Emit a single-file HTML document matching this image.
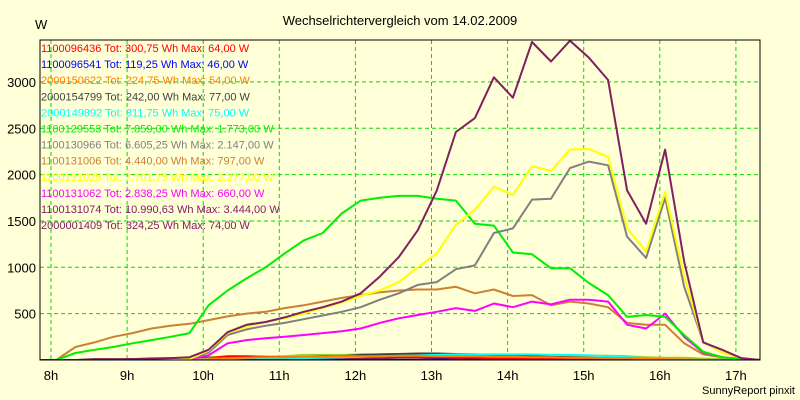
<!DOCTYPE html>
<html><head><meta charset="utf-8"><style>
body{margin:0;background:#ffffd8;}
svg{display:block;font-family:"Liberation Sans",sans-serif;}
</style></head><body>
<svg id="chart" width="800" height="400" viewBox="0 0 800 400" xmlns="http://www.w3.org/2000/svg">
<rect x="0" y="0" width="800" height="400" fill="#ffffd8"/>
<text x="400" y="25" text-anchor="middle" font-size="13" fill="#000">Wechselrichtervergleich vom 14.02.2009</text>
<text x="35" y="29" font-size="13" fill="#000">W</text>
<g id="grid"></g>
<defs><clipPath id="plotclip"><rect x="40" y="40" width="720" height="320"/></clipPath></defs>
<g id="series" clip-path="url(#plotclip)"></g>
<rect x="40" y="40" width="720" height="320" fill="none" stroke="#000" stroke-width="1"/>
<g id="legend"></g>
<g id="axes"></g>
<text x="795" y="394" text-anchor="end" font-size="11" fill="#000">SunnyReport pinxit</text>
</svg>
<script>
const hourTicks = [8,9,10,11,12,13,14,15,16,17];
const hourLabels = ["8h","9h","10h","11h","12h","13h","14h","15h","16h","17h"];
const yTicks = [500,1000,1500,2000,2500,3000];
const times = [];
for (let k = -1; k <= 37; k++) times.push(8.07 + 0.25 * k);

const green   = [0,0,75,110,140,180,215,250,290,590,750,880,1000,1150,1290,1370,1580,1720,1750,1770,1770,1740,1720,1470,1450,1160,1140,990,990,830,700,465,485,465,270,90,30,5,0];
const purple  = [0,0,0,0,0,10,15,20,30,110,300,380,410,460,520,570,630,720,900,1110,1400,1830,2460,2610,3050,2830,3430,3220,3444,3260,3020,1830,1470,2270,1060,190,110,20,0];
const yellow  = [0,0,0,0,0,0,0,0,10,100,290,360,410,450,500,560,620,690,750,840,1000,1150,1460,1620,1870,1780,2090,2040,2270,2277,2190,1420,1170,1810,900,200,80,20,0];
const gray    = [0,0,0,0,0,0,0,0,10,80,270,330,370,400,440,480,520,570,650,720,810,840,980,1020,1370,1420,1730,1740,2070,2140,2100,1330,1100,1750,790,200,80,20,0];
const brown   = [0,0,140,190,250,290,340,370,390,430,470,500,520,560,590,630,670,700,730,750,760,760,790,720,760,690,700,590,630,610,570,400,380,380,180,60,30,10,0];
const magenta = [0,0,0,0,0,0,0,0,10,50,180,215,235,250,270,290,310,340,400,450,485,520,560,530,610,570,630,600,650,650,630,380,340,500,250,80,30,10,0];
const limeBase= [0,0,0,0,0,10,20,20,20,30,35,35,35,40,55,55,55,60,60,65,65,60,55,55,55,50,50,45,45,45,45,40,30,25,25,15,10,5,0];
const orange  = [0,0,0,0,0,0,0,0,0,10,20,25,30,30,35,35,40,40,40,45,45,40,40,40,35,35,30,30,25,25,20,20,15,10,5,0,0,0,0];
const cyan    = [0,0,0,0,0,0,0,0,0,15,15,20,20,20,20,25,30,35,40,45,50,55,60,60,60,60,60,55,55,50,40,30,20,10,0,0,0,0,0];
const red     = [0,0,0,0,0,0,0,0,0,20,40,40,35,30,30,40,40,40,35,35,30,30,25,25,20,20,15,15,10,10,5,5,0,0,0,0,0,0,0];
const darkGray= [0,0,0,0,0,0,0,0,0,0,0,0,0,5,10,20,40,55,60,65,70,70,65,60,50,45,40,35,30,25,20,15,10,5,0,0,0,0,0];
const blue    = [0,0,0,0,0,0,0,0,0,0,0,0,0,0,0,0,0,0,0,0,0,5,10,15,15,15,15,15,10,10,5,0,0,0,0,0,0,0,0];
const plum    = [0,0,0,10,10,10,10,15,20,25,25,20,15,10,10,10,10,15,20,25,25,20,20,15,15,15,15,10,10,10,10,5,5,0,0,0,0,0,0];

const legendNames = ["1100096436 Tot: 300,75 Wh Max: 64,00 W","1100096541 Tot: 119,25 Wh Max: 46,00 W","2000150622 Tot: 224,75 Wh Max: 54,00 W","2000154799 Tot: 242,00 Wh Max: 77,00 W","2000149892 Tot: 311,75 Wh Max: 75,00 W","1100129553 Tot: 7.859,00 Wh Max: 1.773,00 W","1100130966 Tot: 6.605,25 Wh Max: 2.147,00 W","1100131006 Tot: 4.440,00 Wh Max: 797,00 W","1100131025 Tot: 7.701,75 Wh Max: 2.277,00 W","1100131062 Tot: 2.838,25 Wh Max: 660,00 W","1100131074 Tot: 10.990,63 Wh Max: 3.444,00 W","2000001409 Tot: 324,25 Wh Max: 74,00 W"];
const legendColors = ["#ff0000","#0000ff","#ff8000","#404040","#00ffff","#00ee00","#808080","#cc8033","#ffff00","#ff00ff","#802060","#802060"];

const NS = "http://www.w3.org/2000/svg";
const X0 = 51, XPH = 76.1, Y0 = 360, YPW = 0.0927;
function xs(t){ return X0 + (t - 8) * XPH; }
function ys(v){ return Y0 - v * YPW; }

const grid = document.getElementById('grid');
const axes = document.getElementById('axes');
yTicks.forEach(v => {
  const l = document.createElementNS(NS,'line');
  l.setAttribute('x1',40); l.setAttribute('x2',760);
  l.setAttribute('y1',ys(v)); l.setAttribute('y2',ys(v));
  l.setAttribute('stroke','#00dd00'); l.setAttribute('stroke-dasharray','4,3');
  
  
  grid.appendChild(l);
  const t = document.createElementNS(NS,'text');
  t.setAttribute('x',36); t.setAttribute('y',ys(v)+5);
  t.setAttribute('text-anchor','end'); t.setAttribute('font-size','13');
  t.textContent = v;
  
  
  axes.appendChild(t);
});
hourTicks.forEach((h,i) => {
  const l = document.createElementNS(NS,'line');
  l.setAttribute('x1',xs(h)); l.setAttribute('x2',xs(h));
  l.setAttribute('y1',40); l.setAttribute('y2',360);
  l.setAttribute('stroke','#00dd00'); l.setAttribute('stroke-dasharray','4,3');
  
  
  grid.appendChild(l);
  const t = document.createElementNS(NS,'text');
  t.setAttribute('x',xs(h)); t.setAttribute('y',380);
  t.setAttribute('text-anchor','middle'); t.setAttribute('font-size','13');
  t.textContent = hourLabels[i];
  
  
  axes.appendChild(t);
});

const seriesG = document.getElementById('series');
const seriesList = [
  [limeBase,"#9acd32","series-baseline"],[plum,"#802060","series-2000001409"],[darkGray,"#404040","series-2000154799"],
  [blue,"#0000ff","series-1100096541"],[red,"#ff0000","series-1100096436"],[cyan,"#00ffff","series-2000149892"],
  [orange,"#ff8000","series-2000150622"],[brown,"#cc8033","series-1100131006"],[magenta,"#ff00ff","series-1100131062"],
  [green,"#00ee00","series-1100129553"],[gray,"#808080","series-1100130966"],[yellow,"#ffff00","series-1100131025"],
  [purple,"#802060","series-1100131074"]
];
seriesList.forEach(s => {
  const pts = s[0].map((v,i) => xs(times[i]).toFixed(1)+','+ys(v).toFixed(1)).join(' ');
  const p = document.createElementNS(NS,'polyline');
  p.setAttribute('points',pts); p.setAttribute('fill','none');
  p.setAttribute('stroke',s[1]); p.setAttribute('stroke-width','2');
  p.setAttribute('stroke-linejoin','round');
  
  
  seriesG.appendChild(p);
});

const legend = document.getElementById('legend');
legendNames.forEach((n,i) => {
  const t = document.createElementNS(NS,'text');
  t.setAttribute('x',41); t.setAttribute('y',52 + i*16.1);
  t.setAttribute('font-size','11'); t.setAttribute('fill',legendColors[i]);
  t.textContent = n;
  
  
  legend.appendChild(t);
});
</script>
</body></html>
